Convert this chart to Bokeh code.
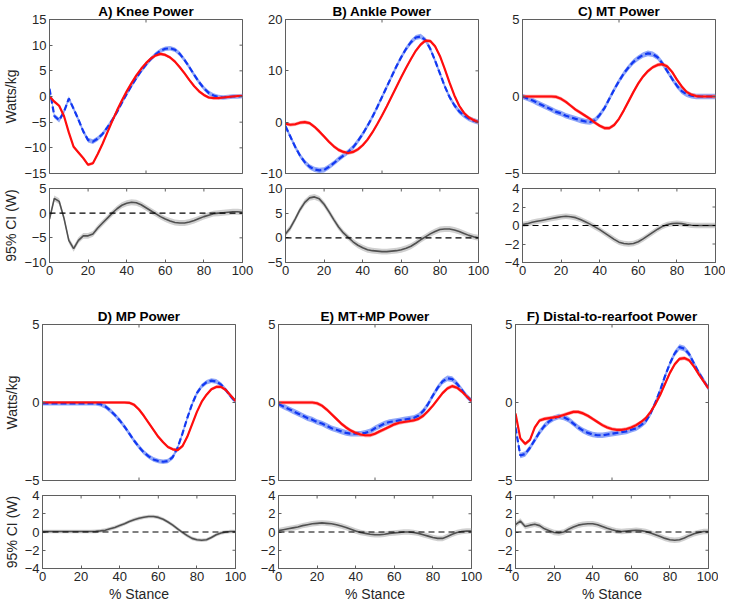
import math
from bokeh.plotting import figure
from bokeh.layouts import column, row
from bokeh.models import Range1d, FixedTicker, Span
from bokeh.embed import file_html
from bokeh.resources import INLINE

# ---------------- data ----------------
stance = [0, 2.5, 5, 7.5, 10, 12.5, 15, 17.5, 20, 22.5, 25, 27.5, 30, 32.5, 35, 37.5,
          40, 42.5, 45, 47.5, 50, 52.5, 55, 57.5, 60, 62.5, 65, 67.5, 70, 72.5, 75, 77.5,
          80, 82.5, 85, 87.5, 90, 92.5, 95, 97.5, 100]

titles = ["A) Knee Power", "B) Ankle Power", "C) MT Power",
          "D) MP Power", "E) MT+MP Power", "F) Distal-to-rearfoot Power"]

main_ylim = [(-15, 15), (-10, 20), (-5, 5), (-5, 5), (-5, 5), (-5, 5)]
main_yticks = [[-15, -10, -5, 0, 5, 10, 15], [-10, 0, 10, 20], [-5, 0, 5],
               [-5, 0, 5], [-5, 0, 5], [-5, 0, 5]]
ci_ylim = [(-10, 5), (-5, 10), (-4, 4), (-4, 4), (-4, 4), (-4, 4)]
ci_yticks = [[-10, -5, 0, 5], [-5, 0, 5, 10], [-4, -2, 0, 2, 4],
             [-4, -2, 0, 2, 4], [-4, -2, 0, 2, 4], [-4, -2, 0, 2, 4]]
main_xticks = [0, 50, 100]
ci_xticks = [0, 20, 40, 60, 80, 100]

knee_blue = [1.5, -3.8, -4.6, -3.0, -0.4, -2.4, -4.5, -6.8, -8.5, -8.8, -8.2, -7.3, -6.0, -4.6,
             -3.0, -1.2, 0.5, 2.1, 3.6, 5.0, 6.2, 7.3, 8.2, 8.9, 9.3, 9.4, 9.1, 8.3, 7.1, 5.7,
             4.2, 2.8, 1.6, 0.7, 0.2, -0.1, -0.2, -0.1, 0.0, 0.0, 0.1]
knee_red = [0.0, -1.0, -1.8, -3.8, -7.0, -9.8, -10.9, -12.0, -13.3, -13.0, -11.2, -9.2, -7.0,
            -4.8, -2.7, -0.8, 1.0, 2.6, 4.1, 5.4, 6.5, 7.4, 8.0, 8.3, 8.1, 7.6, 6.8, 5.7, 4.5,
            3.2, 2.0, 1.0, 0.3, -0.2, -0.3, -0.3, -0.2, -0.1, 0.0, 0.1, 0.1]
knee_ci = [-1.2, 3.0, 2.4, -1.0, -5.5, -7.2, -5.5, -4.6, -4.6, -4.2, -3.0, -2.0, -1.0, 0.0,
           0.9, 1.6, 2.0, 2.2, 2.1, 1.7, 1.1, 0.5, -0.1, -0.7, -1.2, -1.6, -1.9, -2.0, -2.0,
           -1.8, -1.5, -1.1, -0.7, -0.4, -0.1, 0.0, 0.1, 0.2, 0.3, 0.3, 0.2]

ankle_blue = [-0.8, -2.8, -4.8, -6.5, -7.8, -8.7, -9.2, -9.4, -9.3, -8.7, -8.0, -7.2, -6.5,
              -5.8, -4.9, -3.7, -2.3, -0.7, 1.0, 2.9, 4.9, 6.9, 8.9, 10.9, 12.7, 14.3, 15.6,
              16.5, 16.7, 16.0, 14.3, 12.0, 9.5, 7.0, 4.9, 3.3, 2.1, 1.3, 0.7, 0.3, 0.0]
ankle_red = [-0.3, -0.5, -0.4, -0.1, 0.0, -0.2, -0.9, -1.8, -2.8, -3.8, -4.7, -5.4, -5.8,
             -6.0, -5.8, -5.3, -4.5, -3.4, -2.0, -0.4, 1.3, 3.1, 5.0, 6.9, 8.8, 10.6, 12.3,
             13.9, 15.1, 15.9, 15.8, 14.8, 12.9, 10.4, 7.7, 5.2, 3.2, 1.8, 0.9, 0.4, 0.0]
ankle_ci = [0.8, 2.0, 3.8, 5.7, 7.2, 8.1, 8.3, 7.9, 6.8, 5.3, 3.7, 2.2, 1.0, 0.1, -0.8, -1.5,
            -2.0, -2.4, -2.6, -2.7, -2.8, -2.8, -2.7, -2.6, -2.4, -2.1, -1.7, -1.1, -0.4, 0.2,
            0.8, 1.3, 1.7, 1.8, 1.8, 1.6, 1.3, 0.9, 0.5, 0.2, 0.0]

mt_blue = [0.0, -0.12, -0.25, -0.4, -0.55, -0.7, -0.85, -1.0, -1.1, -1.25, -1.35, -1.45,
           -1.55, -1.62, -1.65, -1.55, -1.2, -0.75, -0.15, 0.45, 1.0, 1.5, 1.9, 2.25, 2.5,
           2.7, 2.8, 2.75, 2.55, 2.15, 1.65, 1.15, 0.7, 0.35, 0.15, 0.05, 0.0, 0.0, 0.0, 0.0, 0.0]
mt_red = [0.0, 0.0, 0.0, 0.0, 0.0, 0.0, 0.0, -0.03, -0.15, -0.35, -0.6, -0.85, -1.05, -1.25,
          -1.45, -1.7, -1.9, -2.05, -2.05, -1.85, -1.45, -0.9, -0.3, 0.3, 0.85, 1.3, 1.65,
          1.9, 2.05, 2.1, 1.95, 1.6, 1.1, 0.65, 0.3, 0.12, 0.03, 0.0, 0.0, 0.0, 0.0]
mt_ci = [0.1, 0.2, 0.35, 0.45, 0.55, 0.65, 0.75, 0.85, 0.95, 1.0, 0.95, 0.85, 0.65, 0.4, 0.15,
         -0.15, -0.45, -0.8, -1.15, -1.5, -1.8, -1.95, -2.0, -1.95, -1.75, -1.45, -1.1, -0.75,
         -0.4, -0.1, 0.1, 0.2, 0.25, 0.2, 0.1, 0.03, 0.0, 0.0, 0.0, 0.0, 0.0]

mp_blue = [-0.05, -0.05, -0.05, -0.05, -0.05, -0.05, -0.05, -0.05, -0.05, -0.05, -0.05, -0.05,
           -0.1, -0.25, -0.5, -0.8, -1.15, -1.55, -2.0, -2.45, -2.85, -3.2, -3.45, -3.65,
           -3.75, -3.8, -3.75, -3.5, -2.9, -2.0, -1.0, -0.1, 0.6, 1.05, 1.3, 1.4, 1.35, 1.15,
           0.8, 0.4, 0.05]
mp_red = [0.0, 0.0, 0.0, 0.0, 0.0, 0.0, 0.0, 0.0, 0.0, 0.0, 0.0, 0.0, 0.0, 0.0, 0.0, 0.0, 0.0,
          0.0, -0.02, -0.15, -0.45, -0.85, -1.3, -1.75, -2.2, -2.55, -2.85, -3.0, -3.05, -2.8,
          -2.2, -1.4, -0.6, 0.05, 0.5, 0.85, 1.0, 1.0, 0.8, 0.45, 0.1]
mp_ci = [0.05, 0.05, 0.05, 0.05, 0.05, 0.05, 0.05, 0.05, 0.05, 0.05, 0.05, 0.07, 0.12, 0.2,
         0.35, 0.5, 0.7, 0.9, 1.15, 1.35, 1.5, 1.62, 1.7, 1.7, 1.6, 1.4, 1.1, 0.75, 0.35,
         -0.05, -0.4, -0.7, -0.85, -0.9, -0.85, -0.6, -0.3, -0.1, 0.0, 0.05, 0.05]

mtmp_blue = [-0.1, -0.25, -0.4, -0.55, -0.7, -0.85, -1.0, -1.1, -1.25, -1.35, -1.5, -1.65,
             -1.75, -1.85, -1.95, -2.0, -2.0, -2.0, -1.95, -1.85, -1.65, -1.5, -1.35, -1.25,
             -1.2, -1.15, -1.1, -1.05, -1.0, -0.85, -0.55, -0.1, 0.45, 0.95, 1.35, 1.55, 1.5,
             1.2, 0.8, 0.4, 0.1]
mtmp_red = [0.0, 0.0, 0.0, 0.0, 0.0, 0.0, 0.0, 0.0, -0.05, -0.2, -0.45, -0.75, -1.05, -1.35,
            -1.6, -1.8, -1.95, -2.05, -2.1, -2.1, -2.0, -1.85, -1.7, -1.55, -1.4, -1.3, -1.25,
            -1.2, -1.15, -1.05, -0.85, -0.55, -0.2, 0.2, 0.6, 0.9, 1.05, 0.95, 0.7, 0.4, 0.1]
mtmp_ci = [0.15, 0.25, 0.35, 0.45, 0.55, 0.7, 0.8, 0.9, 0.95, 1.0, 0.95, 0.9, 0.8, 0.65, 0.5,
           0.3, 0.1, -0.05, -0.15, -0.25, -0.3, -0.3, -0.25, -0.15, -0.1, -0.05, 0.0, 0.0,
           -0.05, -0.15, -0.3, -0.45, -0.6, -0.7, -0.7, -0.5, -0.25, -0.05, 0.05, 0.1, 0.1]

d2r_blue = [-1.6, -3.4, -3.3, -2.9, -2.4, -1.9, -1.5, -1.2, -1.0, -0.9, -0.95, -1.1, -1.35,
            -1.6, -1.8, -1.95, -2.05, -2.1, -2.1, -2.05, -2.0, -1.95, -1.9, -1.85, -1.75,
            -1.65, -1.45, -1.2, -0.7, 0.0, 0.8, 1.7, 2.5, 3.15, 3.55, 3.45, 3.1, 2.5, 1.9,
            1.4, 0.9]
d2r_red = [-0.7, -2.3, -2.65, -2.4, -1.6, -1.15, -1.05, -1.0, -0.95, -0.9, -0.8, -0.7, -0.6,
           -0.6, -0.7, -0.85, -1.05, -1.25, -1.45, -1.6, -1.7, -1.75, -1.75, -1.7, -1.6,
           -1.45, -1.25, -1.0, -0.6, -0.1, 0.5, 1.2, 1.9, 2.45, 2.8, 2.85, 2.7, 2.3, 1.8,
           1.35, 0.9]
d2r_ci = [0.8, 1.2, 0.6, 0.75, 0.85, 0.7, 0.35, 0.15, -0.05, -0.1, 0.0, 0.3, 0.55, 0.75, 0.85,
          0.9, 0.9, 0.8, 0.6, 0.4, 0.25, 0.12, 0.05, 0.1, 0.15, 0.2, 0.15, 0.05, -0.1, -0.3,
          -0.5, -0.7, -0.85, -0.9, -0.85, -0.65, -0.4, -0.2, -0.05, 0.05, 0.05]

blue_series = [knee_blue, ankle_blue, mt_blue, mp_blue, mtmp_blue, d2r_blue]
red_series = [knee_red, ankle_red, mt_red, mp_red, mtmp_red, d2r_red]
ci_series = [knee_ci, ankle_ci, mt_ci, mp_ci, mtmp_ci, d2r_ci]
blue_sd = [0.45, 0.5, 0.18, 0.15, 0.18, 0.18]
red_sd = [0.3, 0.35, 0.12, 0.1, 0.12, 0.12]
ci_half = [0.6, 0.6, 0.3, 0.2, 0.3, 0.3]

# ---------------- styling ----------------
FONT = "Liberation Sans"
TXT = "#262626"
AXC = "#5f5f5f"
FW = 193
BORDER_L = [41, 31, 32]
BORDER_R = [12, 12, 10]


def style_axis(ax, ticks):
    ax.ticker = FixedTicker(ticks=ticks)
    ax.major_tick_in = 3
    ax.major_tick_out = 0
    ax.minor_tick_line_color = None
    ax.axis_line_color = AXC
    ax.major_tick_line_color = AXC
    ax.major_label_text_font = FONT
    ax.major_label_text_color = TXT
    ax.major_label_text_font_size = "13px"
    ax.major_label_standoff = 3
    ax.axis_label_text_font = FONT
    ax.axis_label_text_font_size = "14px"
    ax.axis_label_text_font_style = "normal"
    ax.axis_label_text_color = TXT
    ax.axis_label_standoff = 2


def edge_ticks(p, xt, yt, ylim, bottom):
    """Inward tick marks on the unlabeled sides of the box (clipped to the frame)."""
    p.scatter(x=xt, y=[ylim[1]] * len(xt), marker="dash", angle=math.pi / 2, size=6,
              line_color=AXC, line_width=1)
    if bottom:
        p.scatter(x=xt, y=[ylim[0]] * len(xt), marker="dash", angle=math.pi / 2, size=6,
                  line_color=AXC, line_width=1)
    p.scatter(x=[100] * len(yt), y=yt, marker="dash", size=6, line_color=AXC, line_width=1)


def base_fig(col, fh, ylim, top, bottom):
    p = figure(frame_width=FW, frame_height=fh, x_range=Range1d(0, 100),
               y_range=Range1d(*ylim), output_backend="svg", toolbar_location=None,
               min_border_left=BORDER_L[col], min_border_right=BORDER_R[col],
               min_border_top=top, min_border_bottom=bottom)
    p.xgrid.visible = False
    p.ygrid.visible = False
    p.outline_line_color = AXC
    p.outline_line_width = 1
    p.background_fill_color = "white"
    p.border_fill_color = "white"
    return p


def make_main(i, col, fh):
    p = base_fig(col, fh, main_ylim[i], 0, 8)
    p.title.text = titles[i]
    p.title.align = "center"
    p.title.text_font = FONT
    p.title.text_font_size = "13.5px"
    p.title.text_font_style = "bold"
    p.title.text_color = "black"
    p.title.standoff = 2
    p.xaxis.visible = False
    style_axis(p.yaxis[0], main_yticks[i])
    if col == 0:
        p.yaxis[0].axis_label = "Watts/kg"
    b = blue_series[i]
    r = red_series[i]
    p.varea(x=stance, y1=[v - blue_sd[i] for v in b], y2=[v + blue_sd[i] for v in b],
            fill_color="#7d98f7", fill_alpha=0.85)
    p.varea(x=stance, y1=[v - red_sd[i] for v in r], y2=[v + red_sd[i] for v in r],
            fill_color="#ff8a8a", fill_alpha=0.8)
    p.line(x=stance, y=b, line_color="#1238f2", line_width=2.2, line_dash="6 3")
    p.line(x=stance, y=r, line_color="#ff0d0d", line_width=2.2)
    edge_ticks(p, main_xticks, main_yticks[i], main_ylim[i], True)
    return p


def make_ci(i, col, fh, bottom, xlabel):
    p = base_fig(col, fh, ci_ylim[i], 7, bottom)
    style_axis(p.xaxis[0], ci_xticks)
    style_axis(p.yaxis[0], ci_yticks[i])
    if col == 0:
        p.yaxis[0].axis_label = "95% CI (W)"
    if xlabel:
        p.xaxis[0].axis_label = "% Stance"
    c = ci_series[i]
    p.varea(x=stance, y1=[v - ci_half[i] for v in c], y2=[v + ci_half[i] for v in c],
            fill_color="#c4c4c4", fill_alpha=0.8)
    p.add_layout(Span(location=0, dimension="width", line_color="black",
                      line_width=1.2, line_dash="6 4"))
    p.line(x=stance, y=c, line_color="#505050", line_width=1.6)
    edge_ticks(p, ci_xticks, ci_yticks[i], ci_ylim[i], False)
    return p


row1 = [make_main(i, i, 154) for i in range(3)]
row2 = [make_ci(i, i, 74, 43, False) for i in range(3)]
row3 = [make_main(i + 3, i, 156) for i in range(3)]
row4 = [make_ci(i + 3, i, 73, 30, True) for i in range(3)]

layout = column(row(*row1), row(*row2), row(*row3), row(*row4))

open("out.html", "w").write(file_html(layout, INLINE))
